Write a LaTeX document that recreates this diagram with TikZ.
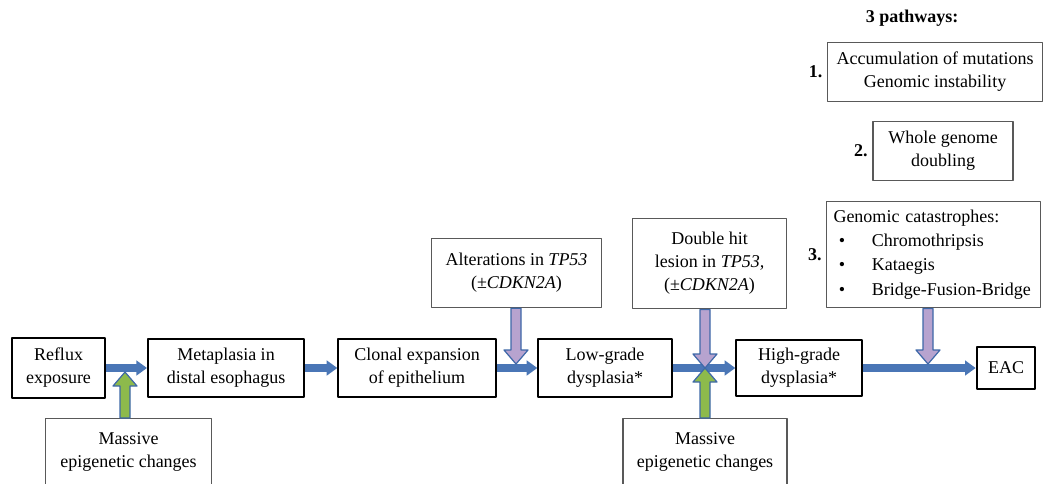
\documentclass[tikz,border=0pt]{standalone}
\usepackage{fontspec}
\setmainfont{Liberation Serif}
\usetikzlibrary{calc,arrows.meta}
\definecolor{arrowblue}{HTML}{3E68A8}
\definecolor{shaftblue}{HTML}{4A76B6}
\definecolor{lavender}{HTML}{B7A3CF}
\definecolor{leafgreen}{HTML}{8DBA4C}
\tikzset{
  stagebox/.style={draw=black, line width=1.5pt, align=center, inner sep=0pt},
  notebox/.style={draw=black!65, line width=0.9pt, align=center, inner sep=0pt},
  mainarrow/.style={draw=shaftblue, line width=5.5pt, -{Triangle[width=11pt,length=8pt]}},
  downarrow/.style={draw=arrowblue, line width=0.9pt, fill=#1,
    to path={let \p1=(\tikztostart), \p2=(\tikztotarget) in
      (\x1-3.75pt,\y1) -- (\x1-3.75pt,\y2+10.5pt) -- (\x1-9pt,\y2+10.5pt) -- (\x1,\y2)
      -- (\x1+9pt,\y2+10.5pt) -- (\x1+3.75pt,\y2+10.5pt) -- (\x1+3.75pt,\y1) -- cycle}},
  uparrow/.style={draw=arrowblue, line width=0.9pt, fill=#1,
    to path={let \p1=(\tikztostart), \p2=(\tikztotarget) in
      (\x1-3.75pt,\y1) -- (\x1-3.75pt,\y2-10.5pt) -- (\x1-9pt,\y2-10.5pt) -- (\x1,\y2)
      -- (\x1+9pt,\y2-10.5pt) -- (\x1+3.75pt,\y2-10.5pt) -- (\x1+3.75pt,\y1) -- cycle}},
  numlabel/.style={font=\fontsize{13.5}{17}\selectfont\bfseries}
}
\newcommand{\catitem}[1]{\mbox{\hspace*{4pt}\textbullet\hspace{20pt}#1}}
\begin{document}
\begin{tikzpicture}[x=0.75pt, y=-0.75pt, font=\fontsize{13.5}{17.25}\selectfont, line join=round]
  \useasboundingbox (0,0) rectangle (1043,483);
  % main stages
  \node[stagebox, minimum width=70pt, minimum height=45pt] (reflux) at (58.5,368) {Reflux\\exposure};
  \node[stagebox, minimum width=117pt, minimum height=43pt] (meta) at (226,368) {Metaplasia in\\distal esophagus};
  \node[stagebox, minimum width=118pt, minimum height=43pt] (clonal) at (417,368) {Clonal expansion\\of epithelium};
  \node[stagebox, minimum width=100pt, minimum height=43pt] (low) at (605,368) {Low-grade\\dysplasia*};
  \node[stagebox, minimum width=94pt, minimum height=42pt] (high) at (799,368) {High-grade\\dysplasia*};
  \node[stagebox, minimum width=44pt, minimum height=31pt] (eac) at (1006,368) {EAC};
  % side notes
  \node[notebox, minimum width=124pt, minimum height=50pt] (epione) at (128.5,452) {Massive\\epigenetic changes};
  \node[notebox, minimum width=128pt, minimum height=52pt] (tpone) at (516.5,273) {Alterations in \textit{TP53}\\(±\textit{CDKN2A})};
  \node[notebox, minimum width=116pt, minimum height=68pt] (dblhit) at (709.5,263.5) {Double hit\\lesion in \textit{TP53,}\\(±\textit{CDKN2A})};
  \node[notebox, minimum width=123pt, minimum height=50pt] (epitwo) at (705,452) {Massive\\epigenetic changes};
  % pathways
  \node[numlabel] (title) at (912,18) {3 pathways:};
  \node[notebox, minimum width=161pt, minimum height=44pt] (accum) at (935,72) {Accumulation of mutations\\Genomic instability};
  \node[notebox, minimum width=105pt, minimum height=44pt] (whole) at (943,151) {Whole genome\\doubling};
  \node[notebox, minimum width=160pt, minimum height=80pt, align=left, text width=150pt] (catas) at (933.5,254.5)
    {Genomic catastrophes:\\[1pt]\catitem{Chromothripsis}\\[1pt]\catitem{Kataegis}\\[1pt]\catitem{Bridge-Fusion-Bridge}};
  \node[numlabel, anchor=east] (numone) at (accum.west) {1.\hspace{6pt}};
  \node[numlabel, anchor=east] (numtwo) at (whole.west) {2.\hspace{6pt}};
  \node[numlabel, anchor=east] (numthree) at (catas.west) {3.\hspace{6pt}};
  % junctions on the main line
  \coordinate (jone) at (125,368);
  \coordinate (jtwo) at (516,368);
  \coordinate (jthree) at (705,368);
  \coordinate (jfour) at (928,368);
  % main line
  \draw[mainarrow] (reflux) -- (meta);
  \draw[mainarrow] (meta) -- (clonal);
  \draw[mainarrow] (clonal) -- (low);
  \draw[mainarrow] (low) -- (high);
  \draw[mainarrow] (high) -- (eac);
  % influences
  \draw[uparrow=leafgreen] (epione.north -| jone) to ($(jone)+(0,4)$);
  \draw[downarrow=lavender] (tpone.south -| jtwo) to ($(jtwo)+(0,-4)$);
  \draw[downarrow=lavender] (dblhit.south -| jthree) to (jthree);
  \draw[uparrow=leafgreen] (epitwo.north -| jthree) to (jthree);
  \draw[downarrow=lavender] (catas.south -| jfour) to ($(jfour)+(0,-4)$);
\end{tikzpicture}
\end{document}
